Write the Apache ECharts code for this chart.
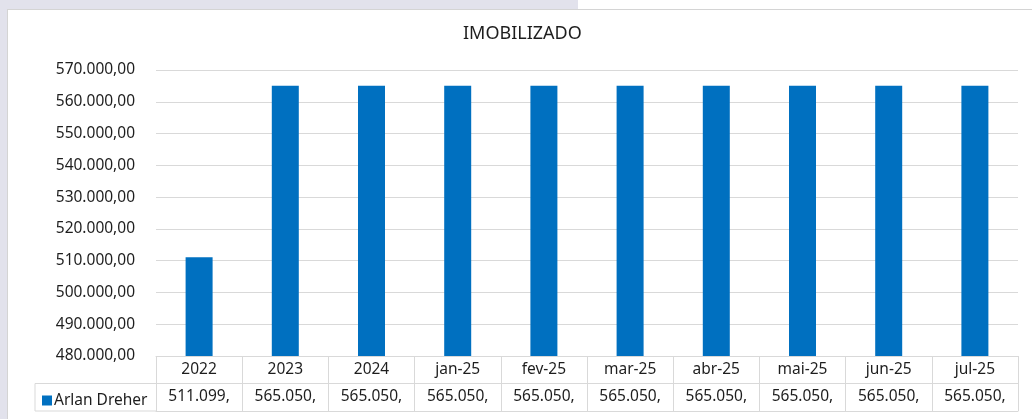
<!DOCTYPE html>
<html>
<head>
<meta charset="utf-8">
<script src="https://cdn.jsdelivr.net/npm/echarts@6/dist/echarts.min.js"></script>
<style>
  html, body { margin: 0; padding: 0; background: #fff; }
  #stripTop { position: absolute; left: 0; top: 0; width: 578px; height: 9px; background: #e2e2ec; }
  #stripLeft { position: absolute; left: 0; top: 0; width: 7px; height: 419px; background: #e2e2ec; }
  #box { position: absolute; left: 7px; top: 9px; width: 1040px; height: 420px; background: #fff;
         border-top: 1px solid #d4d4d4; border-left: 1px solid #d4d4d4; box-sizing: border-box; }
  #chart { position: absolute; left: 0; top: 0; width: 1032px; height: 419px; }
</style>
</head>
<body>
<div id="stripTop"></div>
<div id="stripLeft"></div>
<div id="box"></div>
<div id="chart"></div>
<script>
// dados do gráfico
const titulo = "IMOBILIZADO";
const serieNome = "Arlan Dreher";
const categorias = ["2022", "2023", "2024", "jan-25", "fev-25", "mar-25", "abr-25", "mai-25", "jun-25", "jul-25"];
const valores = [511099, 565050, 565050, 565050, 565050, 565050, 565050, 565050, 565050, 565050];
const eixoY = { min: 480000, max: 570000, intervalo: 10000 };

// formato pt-BR: 570.000,00
function milhar(n) {
  return String(Math.floor(n)).replace(/\B(?=(\d{3})+(?!\d))/g, ".");
}
function formatoY(v) {
  return milhar(v) + ",00";
}
// célula da tabela cortada como no Excel
function formatoTabela(v) {
  return milhar(v) + ",";
}

const fonte = "Noto Sans";
const tam = 15.5;
const corLinha = "#d9d9d9";
const corTexto = "#1e1e1e";
const grade = { left: 156, right: 14, top: 70, bottom: 63 };
const alturaLinha = 27.5;

const chart = echarts.init(document.getElementById("chart"));

// posições das células da legenda derivadas da grade
const yBase = 419 - grade.bottom;
const xLeg = 35;

chart.setOption({
  backgroundColor: "transparent",
  textStyle: { fontFamily: fonte },
  title: {
    text: titulo,
    left: 463,
    top: 25,
    padding: 0,
    textStyle: { fontFamily: fonte, fontSize: 18, fontWeight: "normal", color: corTexto }
  },
  legend: {
    data: [serieNome],
    left: 37,
    top: yBase + alturaLinha + 4,
    icon: "rect",
    itemWidth: 10,
    itemHeight: 10,
    itemGap: 4,
    textStyle: { fontFamily: fonte, fontSize: tam, color: corTexto, padding: [0, 0, 0, -3] }
  },
  grid: grade,
  xAxis: [
    {
      type: "category",
      data: categorias,
      position: "bottom",
      axisLine: { show: true, lineStyle: { color: corLinha } },
      axisTick: { show: true, length: alturaLinha * 2, interval: 0, lineStyle: { color: corLinha } },
      axisLabel: { margin: 6, fontSize: tam, color: corTexto, fontFamily: fonte, interval: 0 }
    },
    {
      type: "category",
      data: valores.map(formatoTabela),
      position: "bottom",
      offset: alturaLinha,
      axisLine: { show: true, lineStyle: { color: corLinha } },
      axisTick: { show: false },
      axisLabel: { margin: 5, fontSize: tam, color: corTexto, fontFamily: fonte, interval: 0 }
    },
    {
      type: "category",
      data: categorias,
      position: "bottom",
      offset: alturaLinha * 2,
      axisLine: { show: true, lineStyle: { color: corLinha } },
      axisTick: { show: false },
      axisLabel: { show: false }
    }
  ],
  yAxis: {
    type: "value",
    min: eixoY.min,
    max: eixoY.max,
    interval: eixoY.intervalo,
    axisLine: { show: false },
    axisTick: { show: false },
    splitLine: { lineStyle: { color: corLinha } },
    axisLabel: { formatter: formatoY, margin: 21, fontSize: tam, color: corTexto, fontFamily: fonte }
  },
  series: [
    {
      name: serieNome,
      type: "bar",
      data: valores,
      barWidth: 27,
      itemStyle: { color: "#0070c0" }
    }
  ],
  graphic: [
    // bordas da célula da legenda
    { type: "line", shape: { x1: xLeg, y1: yBase + alturaLinha, x2: grade.left, y2: yBase + alturaLinha }, style: { stroke: corLinha } },
    { type: "line", shape: { x1: xLeg, y1: yBase + alturaLinha * 2, x2: grade.left, y2: yBase + alturaLinha * 2 }, style: { stroke: corLinha } },
    { type: "line", shape: { x1: xLeg, y1: yBase + alturaLinha, x2: xLeg, y2: yBase + alturaLinha * 2 }, style: { stroke: corLinha } }
  ]
});
</script>
</body>
</html>
